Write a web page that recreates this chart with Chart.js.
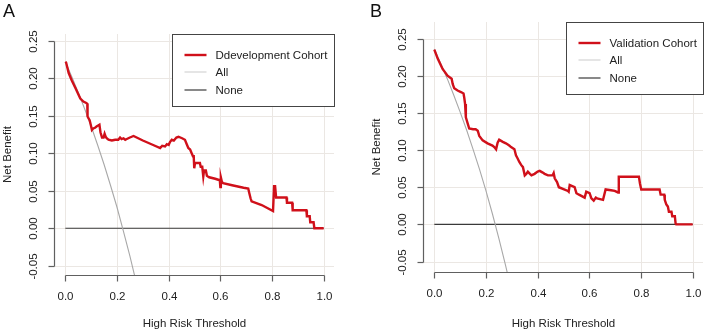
<!DOCTYPE html>
<html>
<head>
<meta charset="utf-8">
<script src="https://cdn.jsdelivr.net/npm/chart.js@4/dist/chart.umd.min.js"></script>
<style>
    html, body { margin: 0; padding: 0; background: #fff; }
    #wrap { position: relative; width: 706px; height: 333px; overflow: hidden; }
    .panel { position: absolute; top: 0; width: 353px; height: 333px; }
</style>
</head>
<body>
<div id="wrap">
    <div class="panel" style="left:0"><canvas id="chartA" width="353" height="333"></canvas></div>
    <div class="panel" style="left:353px"><canvas id="chartB" width="353" height="333"></canvas></div>
</div>
<script>
// tick positions / labels (shared by both panels)
const xTicks = [0, 0.2, 0.4, 0.6, 0.8, 1.0];
const xTickLabels = ['0.0', '0.2', '0.4', '0.6', '0.8', '1.0'];
const yTicks = [-0.05, 0, 0.05, 0.10, 0.15, 0.20, 0.25];
const yTickLabels = ['-0.05', '0.00', '0.05', '0.10', '0.15', '0.20', '0.25'];

// Panel A - development cohort
const devThreshold = [0.000, 0.003, 0.013, 0.025, 0.039, 0.058, 0.070, 0.081, 0.085, 0.086, 0.094, 0.097, 0.103, 0.108, 0.115, 0.122, 0.127, 0.132, 0.136, 0.142, 0.148, 0.152, 0.156, 0.160, 0.167, 0.180, 0.193, 0.205, 0.212, 0.218, 0.225, 0.232, 0.238, 0.250, 0.264, 0.300, 0.340, 0.367, 0.375, 0.386, 0.393, 0.400, 0.405, 0.412, 0.420, 0.430, 0.438, 0.452, 0.463, 0.470, 0.476, 0.483, 0.489, 0.494, 0.497, 0.499, 0.502, 0.521, 0.524, 0.530, 0.534, 0.537, 0.544, 0.548, 0.557, 0.580, 0.598, 0.600, 0.602, 0.606, 0.611, 0.650, 0.690, 0.708, 0.712, 0.717, 0.721, 0.760, 0.804, 0.808, 0.812, 0.816, 0.856, 0.858, 0.878, 0.880, 0.933, 0.935, 0.946, 0.948, 0.961, 0.964, 1.000];
const devNetBenefit = [0.222, 0.221, 0.207, 0.197, 0.187, 0.173, 0.169, 0.167, 0.166, 0.149, 0.144, 0.140, 0.131, 0.133, 0.134, 0.136, 0.137, 0.138, 0.128, 0.121, 0.121, 0.126, 0.122, 0.120, 0.118, 0.117, 0.118, 0.118, 0.121, 0.119, 0.120, 0.118, 0.119, 0.121, 0.123, 0.117, 0.111, 0.107, 0.110, 0.109, 0.112, 0.111, 0.115, 0.118, 0.117, 0.121, 0.122, 0.120, 0.118, 0.112, 0.107, 0.105, 0.100, 0.096, 0.096, 0.080, 0.087, 0.087, 0.082, 0.082, 0.069, 0.077, 0.077, 0.070, 0.068, 0.066, 0.064, 0.055, 0.068, 0.062, 0.060, 0.057, 0.054, 0.053, 0.047, 0.040, 0.036, 0.031, 0.023, 0.056, 0.056, 0.041, 0.041, 0.034, 0.034, 0.024, 0.024, 0.016, 0.016, 0.008, 0.008, 0.000, 0.000];
const devAllThreshold = [0, 0.025, 0.05, 0.075, 0.1, 0.125, 0.15, 0.175, 0.2, 0.225, 0.25, 0.275, 0.3];
const devAllNetBenefit = [0.222, 0.202, 0.181, 0.159, 0.136, 0.111, 0.085, 0.057, 0.028, -0.004, -0.037, -0.073, -0.111];

// Panel B - validation cohort
const valThreshold = [0.000, 0.013, 0.032, 0.051, 0.067, 0.071, 0.077, 0.090, 0.103, 0.113, 0.116, 0.119, 0.122, 0.129, 0.135, 0.150, 0.160, 0.168, 0.174, 0.187, 0.206, 0.225, 0.232, 0.239, 0.245, 0.251, 0.265, 0.277, 0.290, 0.297, 0.310, 0.316, 0.322, 0.329, 0.336, 0.343, 0.350, 0.356, 0.362, 0.370, 0.376, 0.388, 0.400, 0.408, 0.418, 0.427, 0.440, 0.458, 0.462, 0.466, 0.475, 0.482, 0.517, 0.520, 0.524, 0.543, 0.550, 0.560, 0.582, 0.588, 0.601, 0.608, 0.617, 0.625, 0.630, 0.653, 0.663, 0.684, 0.698, 0.711, 0.714, 0.792, 0.796, 0.801, 0.872, 0.876, 0.890, 0.892, 0.898, 0.904, 0.908, 0.918, 0.921, 0.931, 0.934, 0.936, 1.000];
const valNetBenefit = [0.235, 0.223, 0.209, 0.200, 0.196, 0.189, 0.183, 0.180, 0.178, 0.176, 0.170, 0.162, 0.144, 0.136, 0.129, 0.128, 0.128, 0.126, 0.119, 0.113, 0.109, 0.106, 0.104, 0.101, 0.110, 0.114, 0.111, 0.109, 0.106, 0.104, 0.101, 0.093, 0.089, 0.084, 0.080, 0.077, 0.066, 0.068, 0.071, 0.068, 0.066, 0.068, 0.071, 0.072, 0.070, 0.068, 0.066, 0.066, 0.069, 0.062, 0.057, 0.050, 0.045, 0.044, 0.053, 0.050, 0.042, 0.040, 0.036, 0.044, 0.042, 0.035, 0.032, 0.036, 0.035, 0.033, 0.047, 0.046, 0.045, 0.043, 0.064, 0.064, 0.055, 0.047, 0.047, 0.040, 0.040, 0.033, 0.027, 0.024, 0.017, 0.017, 0.011, 0.011, 0.001, 0.000, 0.000];
const valAllThreshold = [0, 0.025, 0.05, 0.075, 0.1, 0.125, 0.15, 0.175, 0.2, 0.225, 0.25, 0.275, 0.3];
const valAllNetBenefit = [0.236, 0.216, 0.196, 0.174, 0.151, 0.127, 0.101, 0.074, 0.045, 0.014, -0.019, -0.054, -0.091];

// treat-none reference
const noneThreshold = [0, 1];
const noneNetBenefit = [0, 0];

const FONT = '11.5px "Liberation Sans", Arial, sans-serif';
const TEXT = '#222';
const GRID = '#ebe7e3';
const AXIS = '#606060';

function toPoints(xs, ys) {
    return xs.map((x, i) => ({ x: x, y: ys[i] }));
}

// R base-graphics look: grid, detached axes, rotated y labels, boxed legend
const rStylePlugin = {
    id: 'rStyle',
    beforeDatasetsDraw(chart) {
        const { ctx, chartArea: a, scales: { x, y } } = chart;
        ctx.save();
        ctx.strokeStyle = GRID;
        ctx.lineWidth = 1;
        xTicks.forEach(t => {
            const px = Math.round(x.getPixelForValue(t)) + 0.5;
            ctx.beginPath(); ctx.moveTo(px, a.top); ctx.lineTo(px, a.bottom); ctx.stroke();
        });
        yTicks.forEach(t => {
            const py = Math.round(y.getPixelForValue(t)) + 0.5;
            ctx.beginPath(); ctx.moveTo(a.left, py); ctx.lineTo(a.right, py); ctx.stroke();
        });
        ctx.restore();
    },
    afterDatasetsDraw(chart, args, opts) {
        const { ctx, chartArea: a, scales: { x, y } } = chart;
        ctx.save();
        ctx.strokeStyle = AXIS;
        ctx.lineWidth = 1.2;

        // y axis
        const ax = a.left - 0.5;
        const yTop = Math.round(y.getPixelForValue(yTicks[yTicks.length - 1])) + 0.5;
        const yBot = Math.round(y.getPixelForValue(yTicks[0])) + 0.5;
        ctx.beginPath(); ctx.moveTo(ax, yTop); ctx.lineTo(ax, yBot); ctx.stroke();
        ctx.font = FONT;
        ctx.fillStyle = TEXT;
        ctx.textAlign = 'center';
        ctx.textBaseline = 'middle';
        yTicks.forEach((t, i) => {
            const py = Math.round(y.getPixelForValue(t)) + 0.5;
            ctx.beginPath(); ctx.moveTo(ax, py); ctx.lineTo(ax - 6, py); ctx.stroke();
            ctx.save();
            ctx.translate(ax - 21, py);
            ctx.rotate(-Math.PI / 2);
            ctx.fillText(yTickLabels[i], 0, 0);
            ctx.restore();
        });

        // x axis
        const ay = a.bottom + 0.5;
        const xL = Math.round(x.getPixelForValue(xTicks[0])) + 0.5;
        const xR = Math.round(x.getPixelForValue(xTicks[xTicks.length - 1])) + 0.5;
        ctx.beginPath(); ctx.moveTo(xL, ay); ctx.lineTo(xR, ay); ctx.stroke();
        xTicks.forEach((t, i) => {
            const px = Math.round(x.getPixelForValue(t)) + 0.5;
            ctx.beginPath(); ctx.moveTo(px, ay); ctx.lineTo(px, ay + 6); ctx.stroke();
            ctx.fillText(xTickLabels[i], px, ay + 21);
        });

        // axis titles
        ctx.fillText('High Risk Threshold', (a.left + a.right) / 2, 324);
        ctx.save();
        ctx.translate(ax - 47, (a.top + a.bottom) / 2);
        ctx.rotate(-Math.PI / 2);
        ctx.fillText('Net Benefit', 0, 0);
        ctx.restore();

        // panel letter
        ctx.font = '18px "Liberation Sans", Arial, sans-serif';
        ctx.textAlign = 'left';
        ctx.textBaseline = 'alphabetic';
        ctx.fillStyle = '#111';
        ctx.fillText(opts.letter, opts.letterX, 17);

        // legend, top right of plot region
        ctx.font = FONT;
        const items = chart.data.datasets;
        const textW = Math.max(...items.map(d => ctx.measureText(d.label).width));
        const boxW = Math.round(12 + 22 + 9 + textW + 7);
        const boxH = 72;
        const bx = Math.round(a.right) + 1 - boxW - 0.5;
        const by = Math.round(a.top) + 0.5;
        ctx.fillStyle = '#fff';
        ctx.fillRect(bx, by, boxW, boxH);
        ctx.strokeStyle = '#444';
        ctx.lineWidth = 1;
        ctx.strokeRect(bx, by, boxW, boxH);
        ctx.textBaseline = 'middle';
        items.forEach((d, i) => {
            const ry = Math.round(by + 20 + i * 17.5);
            ctx.strokeStyle = d.legendColor || d.borderColor;
            ctx.lineWidth = d.borderWidth;
            ctx.beginPath(); ctx.moveTo(bx + 12, ry); ctx.lineTo(bx + 34, ry); ctx.stroke();
            ctx.fillStyle = TEXT;
            ctx.fillText(d.label, bx + 43, ry + 0.5);
        });
        ctx.restore();
    }
};

function makePanel(canvasId, cfg) {
    return new Chart(document.getElementById(canvasId), {
        type: 'line',
        data: {
            datasets: [
                {
                    label: cfg.label,
                    data: toPoints(cfg.xs, cfg.ys),
                    borderColor: '#d0101a',
                    borderWidth: 2.4,
                    pointRadius: 0,
                    tension: 0
                },
                {
                    label: 'All',
                    data: toPoints(cfg.allXs, cfg.allYs),
                    borderColor: '#a8a8a8',
                    legendColor: '#cfcfcf',
                    borderWidth: 1.1,
                    pointRadius: 0,
                    tension: 0
                },
                {
                    label: 'None',
                    data: toPoints(noneThreshold, noneNetBenefit),
                    borderColor: '#3a3a3a',
                    borderWidth: 1.2,
                    pointRadius: 0,
                    tension: 0
                }
            ]
        },
        options: {
            responsive: false,
            animation: false,
            devicePixelRatio: 1,
            layout: { padding: cfg.padding },
            scales: {
                x: { type: 'linear', min: -0.04, max: 1.04, display: false },
                y: { type: 'linear', min: cfg.yMin, max: cfg.yMax, display: false }
            },
            plugins: {
                legend: { display: false },
                tooltip: { enabled: false },
                rStyle: { letter: cfg.letter, letterX: cfg.letterX }
            }
        },
        plugins: [rStylePlugin]
    });
}

makePanel('chartA', {
    label: 'Ddevelopment Cohort',
    xs: devThreshold, ys: devNetBenefit,
    allXs: devAllThreshold, allYs: devAllNetBenefit,
    padding: { left: 55, right: 19, top: 34, bottom: 58 },
    yMin: -0.0623, yMax: 0.259,
    letter: 'A', letterX: 3
});

makePanel('chartB', {
    label: 'Validation Cohort',
    xs: valThreshold, ys: valNetBenefit,
    allXs: valAllThreshold, allYs: valAllNetBenefit,
    padding: { left: 71, right: 3, top: 22, bottom: 61 },
    yMin: -0.064, yMax: 0.2722,
    letter: 'B', letterX: 17
});
</script>
</body>
</html>
